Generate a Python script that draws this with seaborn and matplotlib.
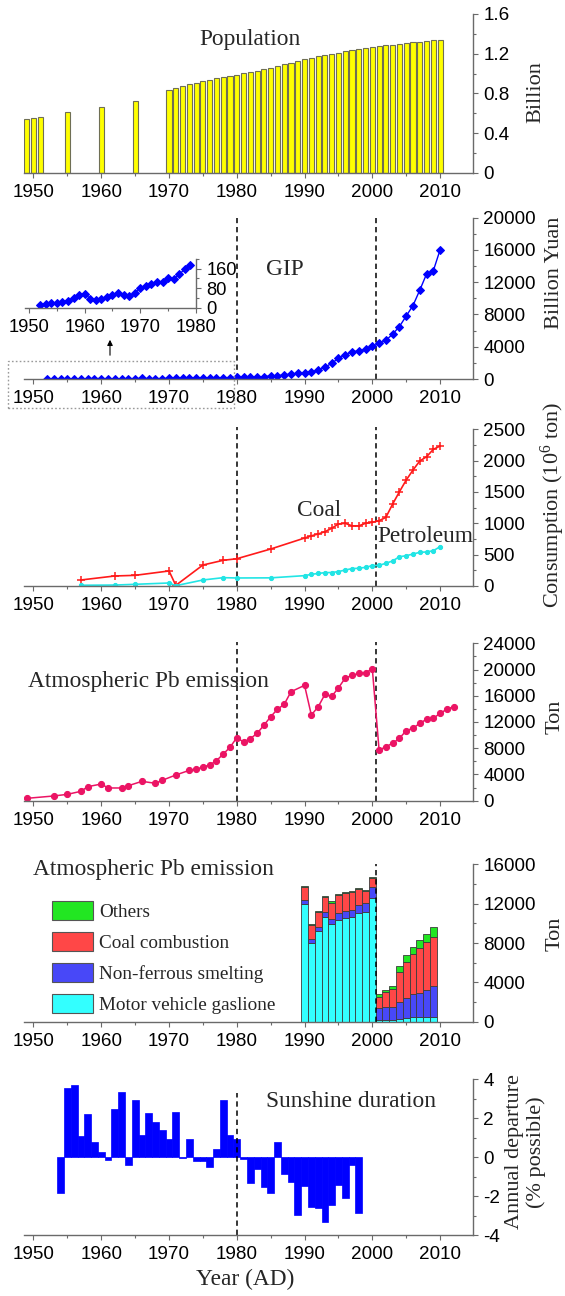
import numpy as np
import pandas as pd
import matplotlib
matplotlib.use("Agg")
import matplotlib.pyplot as plt
from matplotlib.patches import Patch, Rectangle, FancyArrowPatch
from matplotlib.ticker import MultipleLocator, FuncFormatter
import seaborn as sns

# ---------------------------------------------------------------- data
pop_years = [1949, 1950, 1951, 1955, 1960, 1965] + list(range(1970, 2011))
population = [0.540, 0.552, 0.563, 0.615, 0.662, 0.725,
              0.830, 0.852, 0.872, 0.892, 0.909, 0.924, 0.937, 0.950, 0.963, 0.975,
              0.987, 1.001, 1.017, 1.030, 1.044, 1.059, 1.075, 1.093, 1.110, 1.127,
              1.143, 1.158, 1.172, 1.185, 1.199, 1.211, 1.224, 1.236, 1.248, 1.258,
              1.267, 1.276, 1.285, 1.292, 1.300, 1.308, 1.314, 1.321, 1.328, 1.335,
              1.341]

gip_years = list(range(1952, 2011))
gip = [11, 16, 18, 20, 23, 29, 40, 53, 57, 37, 31, 36, 44, 52, 62, 53, 46, 60,
       81, 91, 97, 104, 106, 123, 117, 137, 159, 176,
       200, 205, 220, 250, 300, 370, 420, 500, 620, 700,
       730, 850, 1080, 1450, 1950, 2550, 3000, 3400, 3450, 3700,
       4050, 4400, 4800, 5550, 6500, 7800, 9100, 11000, 13000, 13400, 16000]

energy_years = [1957, 1962, 1965, 1970, 1971, 1975, 1978, 1980, 1985] + list(range(1990, 2011))
coal = [96, 160, 170, 240, 10, 335, 410, 435, 590,
        765, 800, 830, 866, 920, 990, 1000, 960, 960, 1000, 1016,
        1042, 1095, 1308, 1504, 1690, 1850, 1994, 2062, 2180, 2233]
petroleum = [12, 15, 27, 48, 5, 96, 133, 128, 130,
             165, 186, 200, 213, 215, 230, 255, 277, 283, 298, 325,
             330, 362, 400, 467, 483, 510, 537, 543, 563, 627]

pb_years = [1949, 1953, 1955, 1957, 1958, 1960, 1961, 1963, 1964, 1966, 1968, 1969,
            1971, 1973, 1974, 1975, 1976, 1977, 1978, 1979, 1980, 1981, 1982, 1983,
            1984, 1985, 1986, 1987, 1988, 1990, 1991, 1992, 1993, 1994, 1995, 1996,
            1997, 1998, 1999, 2000, 2001, 2002, 2003, 2004, 2005, 2006, 2007, 2008,
            2009, 2010, 2011, 2012]
pb_emission = [360, 720, 970, 1430, 2140, 2540, 1940, 1940, 2290, 2950, 2650, 3110,
               3920, 4630, 4780, 5140, 5440, 6100, 7120, 8140, 9610, 8950, 9460, 10270,
               11500, 12810, 13940, 14700, 16620, 17590, 13070, 14300, 16200, 15900, 17200, 18700,
               19100, 19400, 19500, 20100, 7700, 8240, 8750, 9510, 10680, 11040, 11800, 12410,
               12560, 13320, 13940, 14340]

src_years = list(range(1990, 2010))
src_motor = [11950, 8050, 9250, 10600, 9900, 10300, 10500, 10600, 11000, 11200,
             12550, 170, 170, 170, 240, 340, 440, 440, 440, 440]
src_nonferrous = [400, 400, 400, 550, 550, 700, 780, 800, 850, 850,
                  1100, 1250, 1300, 1300, 1800, 2050, 2350, 2500, 2800, 3200]
src_coal = [1300, 1400, 1500, 1500, 1650, 1850, 1800, 1750, 1600, 1250,
            950, 1100, 1500, 1900, 3050, 3700, 4100, 4600, 4900, 5000]
src_others = [100, 100, 130, 100, 130, 100, 100, 100, 130, 130,
              130, 270, 240, 240, 600, 680, 750, 750, 780, 1000]
source_names = ["Others", "Coal combustion", "Non-ferrous smelting", "Motor vehicle gaslione"]

sun_years = list(range(1954, 1999))
sun_departure = [-1.86, 3.55, 3.70, 1.07, 2.20, 0.77, 0.26, -0.17, 2.46, 3.36,
                 -0.40, 2.96, 1.12, 2.29, 1.79, 1.38, 0.95, 2.32, -0.03, 0.91,
                 -0.22, -0.22, -0.53, 0.43, 2.96, 1.12, 0.91, -0.10, -1.34, -0.59,
                 -1.51, -1.84, 0.76, -0.86, -1.26, -2.96, -1.50, -2.55, -2.62, -3.32,
                 -2.44, -1.41, -2.12, -0.38, -2.89]

# ---------------------------------------------------------------- style
sns.set_theme(style="ticks")
plt.rcParams["font.family"] = ["Liberation Sans", "DejaVu Sans"]
plt.rcParams["mathtext.fontset"] = "custom"
plt.rcParams["mathtext.rm"] = "Liberation Serif"
plt.rcParams["mathtext.it"] = "Liberation Serif:italic"
plt.rcParams["axes.unicode_minus"] = False

SERIF = ["Liberation Serif", "DejaVu Serif"]
AXIS_GRAY = "#6a6a6a"
TICK_FS = 13.6
TITLE_FS = 16.8
YLABEL_FS = 16.0

W, H = 565, 1296
fig = plt.figure(figsize=(W / 100, H / 100), dpi=100)

AX_LEFT, AX_RIGHT = 24.0, 473.3
X_MIN, X_MAX = 1948.6, 2014.9
panel_px = [(14.0, 172.7), (217.5, 379.0), (429.3, 586.0),
            (643.3, 800.7), (864.3, 1021.7), (1079.3, 1235.0)]


def add_panel(top, bottom):
    return fig.add_axes([AX_LEFT / W, 1 - bottom / H,
                         (AX_RIGHT - AX_LEFT) / W, (bottom - top) / H])


def int_fmt(v, _):
    return f"{int(round(v))}"


def style_axis(ax, ylim, ymajor, yminor, fmt=int_fmt, xlim=(X_MIN, X_MAX), fs=TICK_FS):
    ax.set_xlim(*xlim)
    ax.set_ylim(*ylim)
    ax.set_facecolor("none")
    ax.grid(False)
    for side in ("left", "top"):
        ax.spines[side].set_visible(False)
    for side in ("right", "bottom"):
        ax.spines[side].set_visible(True)
        ax.spines[side].set_color(AXIS_GRAY)
        ax.spines[side].set_linewidth(1.0)
    ax.yaxis.tick_right()
    ax.yaxis.set_label_position("right")
    ax.xaxis.set_major_locator(MultipleLocator(10))
    ax.xaxis.set_minor_locator(MultipleLocator(5))
    ax.yaxis.set_major_locator(MultipleLocator(ymajor))
    ax.yaxis.set_minor_locator(MultipleLocator(yminor))
    ax.yaxis.set_major_formatter(FuncFormatter(fmt))
    ax.xaxis.set_major_formatter(FuncFormatter(int_fmt))
    ax.tick_params(which="both", direction="out", color=AXIS_GRAY, width=0.8,
                   labelcolor="black")
    ax.tick_params(which="major", length=3.8)
    ax.tick_params(which="minor", length=2.3)
    ax.tick_params(axis="x", which="both", bottom=True, top=False, labelsize=fs, pad=4)
    ax.tick_params(axis="y", which="both", left=False, right=True,
                   labelleft=False, labelright=True, labelsize=fs, pad=3.5)
    ax.set_xlabel("")


def right_label(ax, text, x, y):
    ax.set_ylabel(text, fontsize=YLABEL_FS, family=SERIF)
    ax.yaxis.set_label_coords(x, y)


def period_line(ax, year, top=1.0):
    ax.axvline(year, ymin=0, ymax=top, color="black", lw=1.1,
               ls=(0, (3.5, 2.5)), clip_on=False, zorder=1)


axes = [add_panel(t, b) for t, b in panel_px]
ax1, ax2, ax3, ax4, ax5, ax6 = axes

# ---------------------------------------------------------------- population
sns.barplot(x=pop_years, y=population, native_scale=True, width=0.75,
            color="#FFFF00", saturation=1, edgecolor="#6f6f55", linewidth=0.8,
            errorbar=None, ax=ax1)
style_axis(ax1, (0, 1.6), 0.4, 0.2, fmt=lambda v, _: "0" if abs(v) < 1e-9 else f"{v:.1f}")
right_label(ax1, "Billion", 1.118, 0.51)
ax1.text(0.504, 0.84, "Population", transform=ax1.transAxes, ha="center", va="center",
         fontsize=TITLE_FS, family=SERIF)

# ---------------------------------------------------------------- GIP
sns.lineplot(x=gip_years, y=gip, color="#0000FF", lw=1.0, marker="D", markersize=3.8,
             markeredgecolor="#0000FF", errorbar=None, ax=ax2)
style_axis(ax2, (0, 20000), 4000, 2000)
right_label(ax2, "Billion Yuan", 1.160, 0.66)
ax2.text(0.58, 0.681, "GIP", transform=ax2.transAxes, ha="center", va="center",
         fontsize=TITLE_FS, family=SERIF)
period_line(ax2, 1980)
period_line(ax2, 2000.5)

# inset with the early GIP years
in_left, in_right, in_top, in_bottom = 24.5, 196.0, 259.0, 307.7
ax_in = fig.add_axes([in_left / W, 1 - in_bottom / H,
                      (in_right - in_left) / W, (in_bottom - in_top) / H])
early = [i for i, yr in enumerate(gip_years) if yr < 1980]
sns.lineplot(x=[gip_years[i] for i in early], y=[gip[i] for i in early],
             color="#0000FF", lw=1.0, marker="D", markersize=3.8,
             markeredgecolor="#0000FF", errorbar=None, ax=ax_in)
style_axis(ax_in, (0, 200), 80, 40, xlim=(1949.2, 1980), fs=13.2)
ax_in.set_ylabel("")

fig.add_artist(Rectangle((8 / W, 1 - 408.5 / H), (234 - 8) / W, (408.5 - 360.7) / H,
                         transform=fig.transFigure, fill=False, ec="#9a9a9a",
                         lw=1.0, ls=(0, (1.2, 1.6))))
fig.add_artist(FancyArrowPatch((110 / W, 1 - 358 / H), (110 / W, 1 - 337 / H),
                               transform=fig.transFigure, arrowstyle="-|>",
                               mutation_scale=8, lw=0.8, color="black"))

# ---------------------------------------------------------------- energy consumption
sns.lineplot(x=energy_years, y=coal, color="#FF1A1A", lw=1.2, marker="+", markersize=6,
             markeredgewidth=1.1, markeredgecolor="#FF1A1A", errorbar=None, ax=ax3)
sns.lineplot(x=energy_years, y=petroleum, color="#22E5E5", lw=1.2, marker="o",
             markersize=3.0, markeredgecolor="#22E5E5", errorbar=None, ax=ax3)
style_axis(ax3, (0, 2500), 500, 250)
right_label(ax3, "Consumption (10$^{6}$ ton)", 1.146, 0.517)
ax3.text(0.657, 0.485, "Coal", transform=ax3.transAxes, ha="center", va="center",
         fontsize=TITLE_FS, family=SERIF)
ax3.text(0.893, 0.315, "Petroleum", transform=ax3.transAxes, ha="center", va="center",
         fontsize=TITLE_FS, family=SERIF)
period_line(ax3, 1980, 1.017)
period_line(ax3, 2000.5, 1.017)

# ---------------------------------------------------------------- Pb emission
sns.lineplot(x=pb_years, y=pb_emission, color="#EB1464", lw=1.1, marker="o",
             markersize=4.4, markeredgecolor="#EB1464", errorbar=None, ax=ax4)
style_axis(ax4, (0, 24000), 4000, 2000)
right_label(ax4, "Ton", 1.160, 0.53)
ax4.text(0.009, 0.756, "Atmospheric Pb emission", transform=ax4.transAxes,
         ha="left", va="center", fontsize=TITLE_FS, family=SERIF)
period_line(ax4, 1980, 1.01)
period_line(ax4, 2000.5, 1.01)

# ---------------------------------------------------------------- Pb sources (stacked)
source_values = {
    "Others": src_others,
    "Coal combustion": src_coal,
    "Non-ferrous smelting": src_nonferrous,
    "Motor vehicle gaslione": src_motor,
}
source_colors = {
    "Others": "#22E622",
    "Coal combustion": "#FF4747",
    "Non-ferrous smelting": "#4848F8",
    "Motor vehicle gaslione": "#33FFFF",
}
src_df = pd.DataFrame({
    "year": np.tile(src_years, len(source_names)),
    "source": np.repeat(source_names, len(src_years)),
    "ton": np.concatenate([source_values[n] for n in source_names]),
})
sns.histplot(data=src_df, x="year", weights="ton", hue="source", hue_order=source_names,
             multiple="stack", discrete=True, shrink=1.0, palette=source_colors,
             alpha=1.0, edgecolor="#3c3c3c", linewidth=0.6, legend=False, ax=ax5)
style_axis(ax5, (0, 16000), 4000, 2000)
right_label(ax5, "Ton", 1.160, 0.56)
ax5.text(0.02, 0.964, "Atmospheric Pb emission", transform=ax5.transAxes,
         ha="left", va="center", fontsize=TITLE_FS, family=SERIF)
period_line(ax5, 2000.5)
handles = [Patch(facecolor=source_colors[n], edgecolor="#555555", lw=0.8, label=n)
           for n in source_names]
ax5.legend(handles=handles, loc="upper left", bbox_to_anchor=(0.062, 0.765),
           frameon=False, borderpad=0, borderaxespad=0, handlelength=2.14,
           handleheight=1.15, handletextpad=0.33, labelspacing=0.56,
           prop={"family": SERIF, "size": 13.8})

# ---------------------------------------------------------------- sunshine duration
sns.barplot(x=sun_years, y=sun_departure, native_scale=True, width=1.0,
            color="#0000FF", saturation=1, edgecolor="#0000FF", linewidth=0.5,
            errorbar=None, ax=ax6)
style_axis(ax6, (-4, 4), 2, 1)
right_label(ax6, "Annual departure\n(% possible)", 1.07, 0.534)
ax6.text(0.728, 0.859, "Sunshine duration", transform=ax6.transAxes,
         ha="center", va="center", fontsize=TITLE_FS, family=SERIF)
period_line(ax6, 1980, 0.91)
ax6.set_xlabel("Year (AD)", fontsize=TITLE_FS, family=SERIF)
ax6.xaxis.set_label_coords(0.492, -0.218)

fig.savefig("out.png", dpi=100)
